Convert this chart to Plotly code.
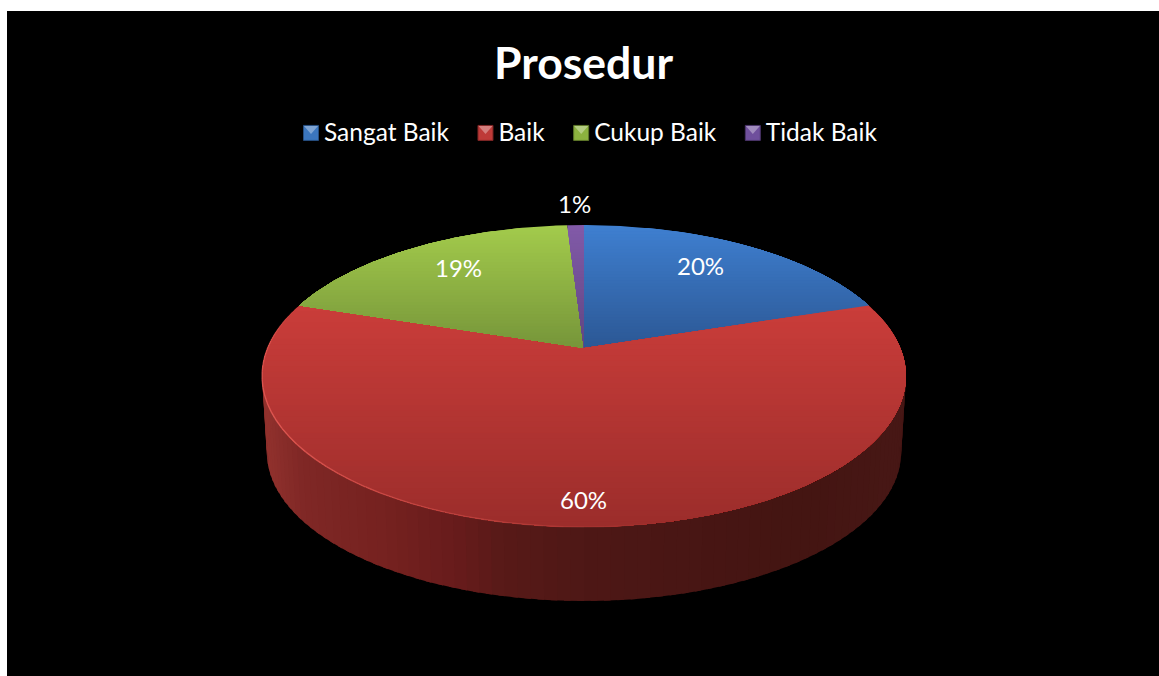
import numpy as np
import plotly.graph_objects as go

# ---- data ----
title_text = "Prosedur"
categories = ["Sangat Baik", "Baik", "Cukup Baik", "Tidak Baik"]
values = [20, 60, 19, 1]

# ---- style ----
legend_colors = ["#3B76BE", "#BE3A38", "#8CB23F", "#6F4F9C"]
legend_lines = ["#264E80", "#7E2625", "#5E772A", "#4A3468"]
face_top = [(63, 127, 208), (202, 61, 58), (163, 203, 76), (130, 90, 168)]
face_bottom = [(44, 88, 148), (155, 45, 43), (118, 149, 58), (96, 70, 130)]
label_radius = [0.74, 0.878, 0.75, 1.2]
label_xshift = [-7, -1, 6, 0]
label_yshift = [4, 1, 3, 1]
wall_x = [262, 300, 380, 450, 500, 584, 700, 800, 906]
wall_r = [146, 128, 118, 104, 88, 78, 72, 68, 72]
wall_g = [50, 40, 34, 28, 26, 24, 22, 21, 24]
wall_b = [46, 38, 32, 28, 24, 22, 20, 18, 22]
FONT = "Lato"

# ---- projection of the disc (perspective) ----
CX, APEX_Y, A, B, K = 584.0, 348.0, 316.4, 145.8, 0.1854
WALL_SCALE, WALL_DROP = 0.985, 76.7


def project(theta, r=1.0, bottom=False):
    """theta in degrees clockwise from 12 o'clock."""
    t = np.radians(theta)
    X, Z = r * np.sin(t), -r * np.cos(t)
    w = 1 - K * Z
    s = WALL_SCALE if bottom else 1.0
    return CX + s * A * X / w, APEX_Y + s * B * Z / w + (WALL_DROP if bottom else 0)


def clip_below(pts, y0):
    out = []
    for i in range(len(pts)):
        p, q = pts[i], pts[(i + 1) % len(pts)]
        pin, qin = p[1] >= y0, q[1] >= y0
        if pin:
            out.append(p)
        if pin != qin:
            f = (y0 - p[1]) / (q[1] - p[1])
            out.append((p[0] + f * (q[0] - p[0]), y0))
    return out


def poly_trace(pts, color):
    xs = [p[0] for p in pts] + [pts[0][0]]
    ys = [p[1] for p in pts] + [pts[0][1]]
    return go.Scatter(x=xs, y=ys, mode="lines", fill="toself", fillcolor=color,
                      line=dict(width=0), hoverinfo="skip", showlegend=False)


fig = go.Figure()
total = sum(values)
edges = np.cumsum([0] + values) / total * 360.0

# side wall
for i in range(len(values)):
    a0, a1 = edges[i], edges[i + 1]
    steps = np.arange(a0, a1, 2.0)
    for t in steps:
        if -np.cos(np.radians(t)) < -0.35:
            continue
        t2 = min(t + 3.0, a1)
        x0, y0 = project(t)
        x1, y1 = project(t2)
        x2, y2 = project(t2, bottom=True)
        x3, y3 = project(t, bottom=True)
        xm = (x0 + x1) / 2
        c = "rgb(%d,%d,%d)" % (np.interp(xm, wall_x, wall_r), np.interp(xm, wall_x, wall_g), np.interp(xm, wall_x, wall_b))
        fig.add_trace(poly_trace([(x0, y0), (x1, y1), (x2, y2), (x3, y3)], c))

# top faces, vertical gradient by overlaid bands
for i in range(len(values)):
    arc = np.linspace(edges[i], edges[i + 1], max(8, int(values[i] * 6)))
    pts = [(CX, APEX_Y)] + [project(t) for t in arc]
    ys = [p[1] for p in pts]
    ymin, ymax = min(ys), max(ys)
    for f in np.linspace(0, 1, 40, endpoint=False):
        y0 = ymin + f * (ymax - ymin)
        sub = clip_below(pts, y0)
        if len(sub) < 3:
            continue
        c = "rgb(%d,%d,%d)" % tuple(face_top[i][k] + f * (face_bottom[i][k] - face_top[i][k]) for k in range(3))
        fig.add_trace(poly_trace(sub, c))

# light rim on the front-left edge
rim = np.arange(165, 285, 3.0)
for t in rim:
    al = float(np.interp(t, [165, 200, 240, 270, 285], [0, 0.45, 0.8, 0.6, 0]))
    x0, y0 = project(t)
    x1, y1 = project(t + 3.0)
    fig.add_trace(go.Scatter(x=[x0, x1], y=[y0, y1], mode="lines",
                             line=dict(color=f"rgba(232,96,90,{al:.2f})", width=1.4),
                             hoverinfo="skip", showlegend=False))

# legend entries
for name, col, lc in zip(categories, legend_colors, legend_lines):
    fig.add_trace(go.Scatter(x=[None], y=[None], mode="markers", name=name,
                             marker=dict(symbol="square", size=15, color=col, line=dict(color=lc, width=1))))

# data labels
mids = (edges[:-1] + edges[1:]) / 2
annotations = []
for v, m, r, dx, dy in zip(values, mids, label_radius, label_xshift, label_yshift):
    lx, ly = project(m, r)
    annotations.append(dict(x=lx, y=ly, text=f"{v}%", showarrow=False, xshift=dx, yshift=dy,
                            font=dict(family=FONT, size=24, color="white")))

fig.update_layout(
    width=1159, height=676, autosize=False,
    margin=dict(l=0, r=0, t=0, b=0, pad=0),
    paper_bgcolor="white", plot_bgcolor="black",
    xaxis=dict(domain=[7 / 1159, 1], range=[7, 1159], visible=False, fixedrange=True),
    yaxis=dict(domain=[0, 1 - 11 / 676], range=[676, 11], visible=False, fixedrange=True),
    title=dict(text=title_text, x=583.5 / 1159, xanchor="center", y=1 - 63 / 676, yanchor="middle",
               font=dict(family=FONT, size=44.5, color="white", weight="bold")),
    legend=dict(orientation="h", x=280 / 1159, xanchor="left", y=1 - 132 / 676, yanchor="middle",
                bgcolor="rgba(0,0,0,0)", font=dict(family=FONT, size=24.5, color="white"),
                itemwidth=34, itemclick=False, itemdoubleclick=False),
    annotations=annotations,
    showlegend=True,
)

post = """
document.body.style.margin='0';document.body.style.overflow='hidden';
var gd=document.getElementById('{plot_id}');
gd.querySelectorAll('.legendsymbols').forEach(function(g){
  g.setAttribute('transform','translate(9,1)');
  var p=document.createElementNS('http://www.w3.org/2000/svg','path');
  p.setAttribute('d','M15,-7L29,-7L22,1Z');
  p.setAttribute('fill','rgba(255,255,255,0.35)');
  g.appendChild(p);
});
"""
fig.write_html("out.html", post_script=post, config={"displayModeBar": False})
